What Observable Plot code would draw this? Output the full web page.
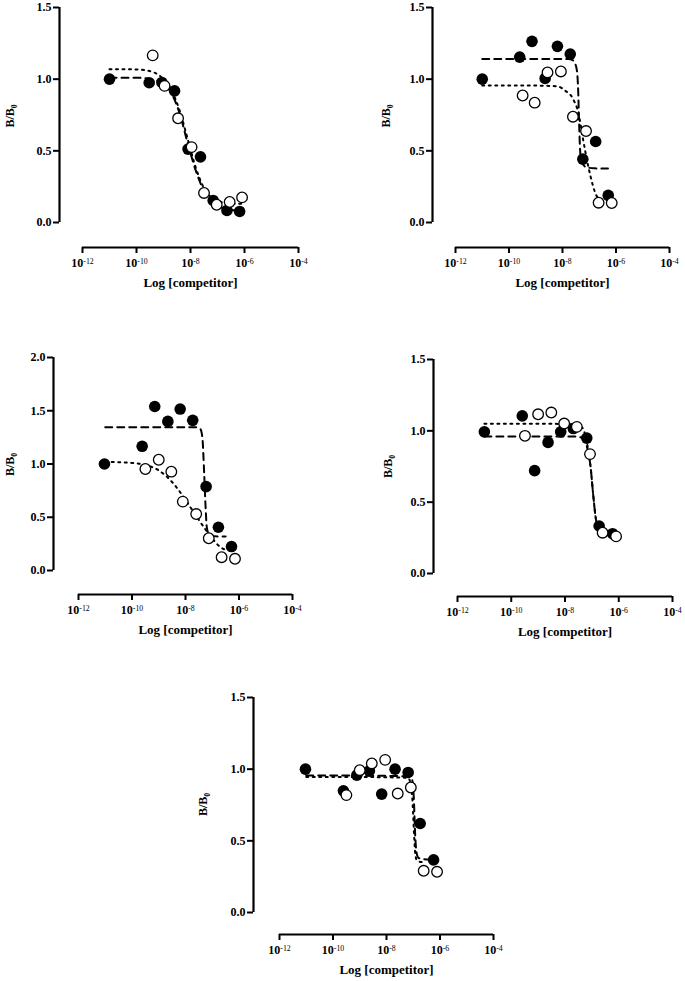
<!DOCTYPE html>
<html><head><meta charset="utf-8">
<script src="https://cdn.jsdelivr.net/npm/d3@7"></script>
<script src="https://cdn.jsdelivr.net/npm/@observablehq/plot@0.6"></script>
<style>
body{margin:0;background:#fff}
#root{position:relative;width:685px;height:981px;background:#fff;overflow:hidden}
#root svg{position:absolute}
#root svg text{font-family:"Liberation Serif","Times New Roman",serif;font-weight:bold;fill:#000}
</style></head><body><div id="root"></div>
<script>
// ---- shared labels / ticks ----
const xTickExps = [-12, -10, -8, -6, -4];
const yTicks15 = [0, 0.5, 1.0, 1.5];
const yTicks20 = [0, 0.5, 1.0, 1.5, 2.0];
const xTitle = "Log [competitor]";
const yTitle = "B/B0";

// ---- data: [log10 concentration, B/B0] ----
// Panel 1
const p1Filled = [[-11.0,1.0],[-9.53,0.975],[-9.06,0.977],[-8.59,0.918],[-8.09,0.512],[-7.63,0.458],[-7.16,0.154],[-6.65,0.084],[-6.18,0.077]];
const p1Open   = [[-9.4,1.166],[-8.96,0.953],[-8.46,0.727],[-7.96,0.526],[-7.5,0.206],[-7.03,0.124],[-6.55,0.143],[-6.09,0.175]];
const p1FitFilled = [[-11.0,1.01],[-10.0,1.01],[-9.5,1.0],[-9.0,0.97],[-8.7,0.9],[-8.4,0.76],[-8.1,0.55],[-7.8,0.36],[-7.5,0.22],[-7.2,0.14],[-6.8,0.1],[-6.4,0.085],[-6.15,0.08]];
const p1FitOpen   = [[-11.0,1.07],[-10.0,1.068],[-9.4,1.05],[-9.0,1.0],[-8.7,0.92],[-8.4,0.78],[-8.1,0.58],[-7.8,0.38],[-7.5,0.24],[-7.2,0.17],[-6.8,0.14],[-6.4,0.13],[-6.1,0.13]];
// Panel 2
const p2Filled = [[-11.0,1.0],[-9.6,1.154],[-9.14,1.264],[-8.65,1.005],[-8.19,1.229],[-7.71,1.175],[-7.24,0.442],[-6.76,0.565],[-6.29,0.189]];
const p2Open   = [[-9.49,0.886],[-9.04,0.836],[-8.56,1.047],[-8.06,1.054],[-7.61,0.738],[-7.12,0.638],[-6.65,0.138],[-6.16,0.136]];
const p2FitFilled = [[-11.0,1.14],[-9.0,1.14],[-7.8,1.14],[-7.6,1.13],[-7.48,1.08],[-7.42,0.95],[-7.38,0.7],[-7.34,0.5],[-7.28,0.42],[-7.1,0.385],[-6.8,0.378],[-6.3,0.376]];
const p2FitOpen   = [[-11.0,0.955],[-9.0,0.955],[-8.2,0.95],[-7.9,0.92],[-7.6,0.86],[-7.4,0.76],[-7.25,0.6],[-7.1,0.45],[-6.95,0.32],[-6.8,0.22],[-6.65,0.16]];
// Panel 3
const p3Filled = [[-11.03,1.0],[-9.62,1.166],[-9.15,1.54],[-8.66,1.40],[-8.2,1.516],[-7.73,1.41],[-7.23,0.788],[-6.77,0.406],[-6.28,0.225]];
const p3Open   = [[-9.5,0.953],[-9.0,1.04],[-8.53,0.928],[-8.1,0.647],[-7.6,0.53],[-7.13,0.303],[-6.65,0.125],[-6.15,0.11]];
const p3FitFilled = [[-11.0,1.345],[-9.0,1.345],[-7.6,1.345],[-7.45,1.33],[-7.37,1.25],[-7.3,0.9],[-7.25,0.6],[-7.2,0.4],[-7.1,0.33],[-6.8,0.32],[-6.5,0.32]];
const p3FitOpen   = [[-11.0,1.02],[-10.0,1.01],[-9.5,0.99],[-9.0,0.94],[-8.5,0.83],[-8.1,0.7],[-7.7,0.55],[-7.35,0.42],[-7.0,0.3],[-6.7,0.22],[-6.45,0.19]];
// Panel 4
const p4Filled = [[-11.0,0.993],[-9.59,1.105],[-9.13,0.721],[-8.63,0.919],[-8.16,0.993],[-7.69,1.016],[-7.19,0.949],[-6.73,0.333],[-6.23,0.279]];
const p4Open   = [[-9.49,0.965],[-9.0,1.116],[-8.51,1.128],[-8.03,1.051],[-7.56,1.028],[-7.07,0.837],[-6.6,0.286],[-6.1,0.26]];
const p4FitFilled = [[-11.0,0.96],[-9.0,0.96],[-7.6,0.96],[-7.35,0.95],[-7.2,0.9],[-7.05,0.75],[-6.95,0.55],[-6.85,0.38],[-6.75,0.31],[-6.5,0.285],[-6.2,0.28]];
const p4FitOpen   = [[-11.0,1.05],[-9.0,1.05],[-7.6,1.045],[-7.35,1.02],[-7.2,0.93],[-7.05,0.75],[-6.95,0.55],[-6.85,0.38],[-6.75,0.3],[-6.5,0.27],[-6.1,0.265]];
// Panel 5
const p5Filled = [[-11.03,1.0],[-9.61,0.849],[-9.11,0.958],[-8.64,0.988],[-8.18,0.826],[-7.68,1.0],[-7.19,0.977],[-6.74,0.621],[-6.24,0.367]];
const p5Open   = [[-9.5,0.819],[-9.0,0.993],[-8.55,1.04],[-8.05,1.065],[-7.58,0.83],[-7.09,0.872],[-6.61,0.291],[-6.11,0.284]];
const p5FitFilled = [[-11.0,0.955],[-9.0,0.955],[-7.2,0.95],[-7.05,0.93],[-6.98,0.8],[-6.93,0.55],[-6.88,0.42],[-6.8,0.38],[-6.5,0.37],[-6.25,0.37]];
const p5FitOpen   = [[-11.0,0.945],[-9.0,0.945],[-7.2,0.94],[-7.1,0.9],[-7.02,0.75],[-6.97,0.55],[-6.92,0.4],[-6.85,0.36],[-6.6,0.35]];

const root = document.getElementById("root");

function panel(cfg) {
  const {left, top, width, height, axisPx, x12Px, x4Px, yTopPx, yTopVal, y0Px, xAxisPx, yTitlePx,
         filled, open, fitFilled, fitOpen, yTicks} = cfg;
  const pxPerDec = (x4Px - x12Px) / 8;
  const d = (x12Px - axisPx) / pxPerDec;
  const xMin = Math.pow(10, -12 - d);
  const pxPerUnit = (y0Px - yTopPx) / yTopVal;
  const yMin = -(xAxisPx - y0Px) / pxPerUnit;
  const rows = arr => arr.map(([lx, y]) => ({x: Math.pow(10, lx), y}));
  const xTicks = xTickExps.map(e => Math.pow(10, e));
  const svg = Plot.plot({
    width, height,
    marginLeft: axisPx - left,
    marginRight: left + width - x4Px,
    marginTop: yTopPx - top,
    marginBottom: top + height - xAxisPx,
    x: {type: "log", domain: [xMin, 1e-4]},
    y: {domain: [yMin, yTopVal]},
    style: {background: "transparent", overflow: "visible", fontSize: "12px"},
    marks: [
      Plot.ruleX([xMin], {y1: 0, y2: yTopVal, stroke: "black", strokeWidth: 2.2}),
      Plot.ruleY([yMin], {x1: xTicks[0], x2: xTicks[xTicks.length - 1], stroke: "black", strokeWidth: 2.2}),
      Plot.axisY({ticks: yTicks, tickSize: 6, tickPadding: 2, tickFormat: d3.format(".1f"),
                  stroke: "black", strokeWidth: 2, label: null, fontSize: 12}),
      Plot.axisX({ticks: xTicks, tickSize: 6, tickPadding: 5,
                  tickFormat: v => "10^" + Math.round(Math.log10(v)),
                  stroke: "black", strokeWidth: 2, label: null, fontSize: 12}),
      Plot.text([yTitle], {text: t => t, frameAnchor: "left", rotate: -90, dx: yTitlePx - axisPx, fontSize: 12}),
      Plot.text([xTitle], {text: t => t, x: () => 1e-8, frameAnchor: "bottom", dy: 39, fontSize: 13}),
      Plot.line(rows(fitFilled), {x: "x", y: "y", stroke: "black", strokeWidth: 2, strokeDasharray: "7,5", curve: "monotone-x"}),
      Plot.line(rows(fitOpen), {x: "x", y: "y", stroke: "black", strokeWidth: 2, strokeDasharray: "2,4.5", curve: "monotone-x"}),
      Plot.dot(rows(filled), {x: "x", y: "y", r: 5.8, fill: "black", stroke: "none"}),
      Plot.dot(rows(open), {x: "x", y: "y", r: 5.3, fill: "white", stroke: "black", strokeWidth: 1.3})
    ]
  });
  // superscripts / subscripts as real text
  svg.querySelectorAll("text").forEach(t => {
    const s = t.textContent;
    const m = /^10\^(-?\d+)$/.exec(s);
    if (m) {
      t.textContent = "10";
      const ts = document.createElementNS("http://www.w3.org/2000/svg", "tspan");
      ts.setAttribute("dy", "-0.45em");
      ts.setAttribute("font-size", "0.65em");
      ts.setAttribute("font-weight", "normal");
      ts.textContent = m[1];
      t.appendChild(ts);
    } else if (s === yTitle) {
      t.textContent = "B/B";
      const ts = document.createElementNS("http://www.w3.org/2000/svg", "tspan");
      ts.setAttribute("dy", "0.3em");
      ts.setAttribute("font-size", "0.65em");
      ts.textContent = "0";
      t.appendChild(ts);
    }
  });
  svg.style.left = left + "px";
  svg.style.top = top + "px";
  root.appendChild(svg);
}

panel({left: 0, top: 0, width: 330, height: 300, axisPx: 59, x12Px: 82, x4Px: 298,
       yTopPx: 7, yTopVal: 1.5, y0Px: 222, xAxisPx: 247, yTitlePx: 10, yTicks: yTicks15,
       filled: p1Filled, open: p1Open, fitFilled: p1FitFilled, fitOpen: p1FitOpen});
panel({left: 350, top: 0, width: 335, height: 300, axisPx: 432, x12Px: 455, x4Px: 669,
       yTopPx: 7, yTopVal: 1.5, y0Px: 222, xAxisPx: 247, yTitlePx: 386, yTicks: yTicks15,
       filled: p2Filled, open: p2Open, fitFilled: p2FitFilled, fitOpen: p2FitOpen});
panel({left: 0, top: 300, width: 330, height: 340, axisPx: 53, x12Px: 78, x4Px: 292,
       yTopPx: 357, yTopVal: 2.0, y0Px: 570, xAxisPx: 594, yTitlePx: 10, yTicks: yTicks20,
       filled: p3Filled, open: p3Open, fitFilled: p3FitFilled, fitOpen: p3FitOpen});
panel({left: 350, top: 300, width: 335, height: 340, axisPx: 433, x12Px: 457, x4Px: 672,
       yTopPx: 359, yTopVal: 1.5, y0Px: 573, xAxisPx: 596, yTitlePx: 388, yTicks: yTicks15,
       filled: p4Filled, open: p4Open, fitFilled: p4FitFilled, fitOpen: p4FitOpen});
panel({left: 170, top: 640, width: 340, height: 341, axisPx: 253, x12Px: 279, x4Px: 493,
       yTopPx: 697, yTopVal: 1.5, y0Px: 912, xAxisPx: 934, yTitlePx: 203, yTicks: yTicks15,
       filled: p5Filled, open: p5Open, fitFilled: p5FitFilled, fitOpen: p5FitOpen});
</script></body></html>
